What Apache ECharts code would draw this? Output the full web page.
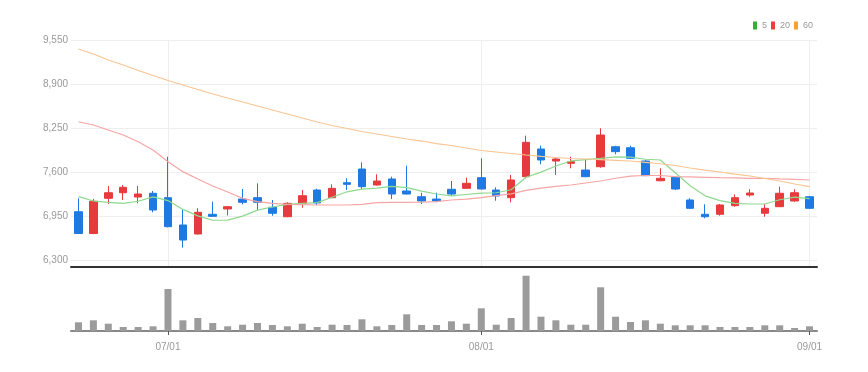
<!DOCTYPE html>
<html><head><meta charset="utf-8">
<script src="https://cdn.jsdelivr.net/npm/echarts@6/dist/echarts.min.js"></script>
<style>html,body{margin:0;padding:0;background:#fff}#c{width:868px;height:372px}</style>
</head><body><div id="c"></div>
<script>
const dates = ['06/23','06/24','06/25','06/26','06/29','06/30',
  '07/01','07/02','07/03','07/06','07/07','07/08','07/09','07/10','07/13','07/14','07/15','07/16','07/17','07/20','07/21','07/22','07/23','07/24','07/27','07/28','07/29',
  '08/01','08/03','08/04','08/05','08/06','08/07','08/10','08/11','08/12','08/13','08/14','08/17','08/18','08/19','08/20','08/21','08/24','08/25','08/26','08/27','08/28','08/31',
  '09/01'];
const opens  = [7016,6694,7214,7296,7233,7288,7223,6820,6687,6978,7056,7203,7223,7081,6942,7140,7336,7223,7444,7646,7410,7499,7322,7237,7203,7347,7361,7518,7336,7223,7533,7941,7764,7730,7631,7680,7975,7960,7764,7473,7524,7189,6978,6978,7105,7262,6993,7090,7174,7237];
const closes = [6694,7170,7296,7376,7277,7041,6795,6598,7007,6948,7090,7155,7155,6993,7140,7252,7145,7361,7420,7385,7469,7277,7277,7174,7174,7277,7435,7351,7248,7484,8040,7779,7794,7754,7533,8148,7902,7804,7548,7509,7351,7066,6942,7115,7223,7292,7066,7288,7296,7066];
const lows   = [6690,6685,7130,7189,7140,7007,6785,6485,6680,6940,6960,7125,7041,6957,6935,7075,7115,7215,7336,7351,7400,7203,7270,7130,7155,7252,7355,7345,7178,7155,7509,7716,7558,7657,7525,7665,7863,7795,7540,7465,7336,7060,6919,6957,7090,7237,6942,7085,7165,7060];
const highs  = [7214,7205,7395,7410,7395,7322,7828,7041,7066,7164,7100,7351,7435,7189,7155,7336,7355,7420,7509,7745,7568,7533,7695,7296,7296,7469,7518,7804,7376,7558,8138,7990,7805,7828,7779,8247,7990,7990,7779,7657,7540,7214,7125,7130,7272,7347,7130,7385,7347,7245];
const volumes = [87,107,73,40,40,47,420,107,130,80,47,63,80,60,47,73,40,63,60,117,47,60,167,60,60,97,73,227,63,130,553,143,107,63,63,437,143,90,107,73,57,57,57,40,40,40,57,57,30,47];
const ma5  = [7238,7174,7155,7140,7170,7235,7180,7050,6955,6890,6892,6950,7040,7085,7125,7140,7150,7230,7310,7350,7365,7390,7372,7320,7277,7250,7270,7290,7296,7340,7525,7600,7690,7765,7785,7804,7826,7822,7790,7779,7590,7400,7250,7180,7140,7130,7130,7192,7230,7210];
const ma20 = [8344,8296,8222,8148,8049,7927,7754,7607,7499,7395,7307,7214,7164,7140,7125,7120,7115,7115,7115,7125,7150,7155,7155,7158,7164,7189,7203,7223,7252,7280,7330,7365,7390,7410,7440,7469,7510,7540,7550,7550,7535,7530,7524,7518,7514,7509,7510,7500,7494,7484];
const ma60 = [9417,9343,9255,9181,9100,9026,8952,8886,8819,8753,8694,8635,8576,8517,8458,8399,8340,8288,8244,8200,8163,8126,8089,8059,8022,7993,7956,7919,7897,7875,7853,7834,7816,7801,7794,7786,7775,7764,7745,7724,7698,7661,7631,7602,7572,7543,7506,7469,7425,7385];
const yTicks = [6300,6950,7600,8250,8900,9550];
const legendNames = ['5','20','60'];

const FONT = "'Liberation Sans Narrow','Liberation Sans',sans-serif";
const isMonthStart = (i, v) => v.slice(3) === '01';
const candleData = dates.map((d, i) => [opens[i], closes[i], lows[i], highs[i]]);

const chart = echarts.init(document.getElementById('c'));
chart.setOption({
  animation: false,
  backgroundColor: '#fff',
  legend: {
    data: legendNames, right: 50, top: 16, icon: 'rect', itemWidth: 4, itemHeight: 8, itemGap: 4,
    textStyle: { color: '#999', fontSize: 9, fontFamily: FONT }
  },
  grid: [
    { left: 71, right: 51, top: 40, height: 227 },
    { left: 71, right: 51, top: 272, height: 59 }
  ],
  xAxis: [
    { type: 'category', data: dates, gridIndex: 0, boundaryGap: true,
      axisLine: { lineStyle: { color: '#333', width: 2 } },
      axisTick: { show: false }, axisLabel: { show: false },
      splitLine: { show: true, interval: isMonthStart, alignWithLabel: true, lineStyle: { color: '#eee' } } },
    { type: 'category', data: dates, gridIndex: 1, boundaryGap: true,
      axisLine: { lineStyle: { color: '#888', width: 2 } },
      axisTick: { show: true, interval: isMonthStart, alignWithLabel: true, length: 4, lineStyle: { color: '#555' } },
      axisLabel: { interval: isMonthStart, color: '#999', fontSize: 10, fontFamily: FONT, margin: 11 },
      splitLine: { show: false } }
  ],
  yAxis: [
    { type: 'value', gridIndex: 0, min: 6200, max: 9550, scale: true,
      axisLine: { show: false },
      axisTick: { show: false, customValues: yTicks },
      axisLabel: { customValues: yTicks, color: '#999', fontSize: 10, fontFamily: FONT, margin: 3,
        formatter: v => v.toLocaleString('en-US') },
      splitLine: { show: true, lineStyle: { color: '#eee' } } },
    { type: 'value', gridIndex: 1, min: 0, max: 590,
      axisLine: { show: false }, axisTick: { show: false }, axisLabel: { show: false }, splitLine: { show: false } }
  ],
  series: [
    { type: 'candlestick', xAxisIndex: 0, yAxisIndex: 0, data: candleData, barWidth: 8,
      itemStyle: { color: '#e63a3c', color0: '#1e7ae2', borderColor: '#e63a3c', borderColor0: '#1e7ae2', borderWidth: 1 } },
    { name: '5', type: 'line', data: ma5, showSymbol: false, symbol: 'none',
      itemStyle: { color: '#2cb52c' }, lineStyle: { color: '#8ed88e', width: 1.2 } },
    { name: '20', type: 'line', data: ma20, showSymbol: false, symbol: 'none',
      itemStyle: { color: '#ee3b3b' }, lineStyle: { color: '#f5a5a5', width: 1.2 } },
    { name: '60', type: 'line', data: ma60, showSymbol: false, symbol: 'none',
      itemStyle: { color: '#f5a030' }, lineStyle: { color: '#f8c593', width: 1.2 } },
    { type: 'bar', xAxisIndex: 1, yAxisIndex: 1, data: volumes, barWidth: 7,
      itemStyle: { color: '#9b9b9b' } }
  ]
});
</script></body></html>
